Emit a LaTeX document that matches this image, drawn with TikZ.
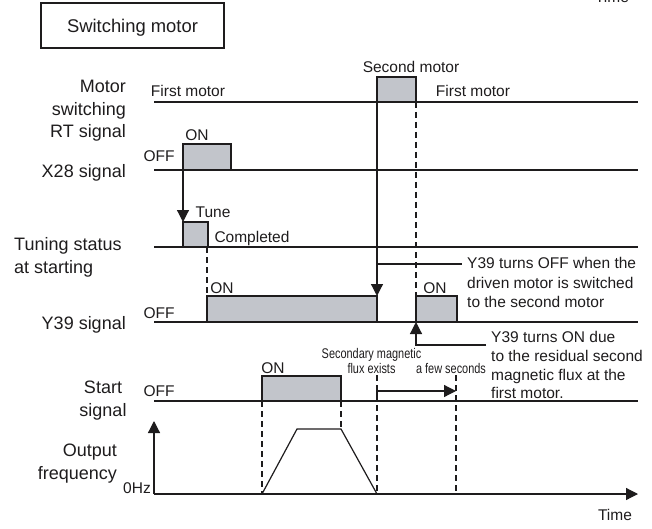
\documentclass[tikz,border=0pt]{standalone}
\usepackage{fontspec}
\setmainfont{Liberation Sans}
\newfontfamily\narrowfont[FakeStretch=0.78]{Liberation Sans}
\usetikzlibrary{arrows.meta}
\definecolor{pulsegray}{RGB}{194,197,203}
\definecolor{ink}{RGB}{30,28,29}
\begin{document}
\begin{tikzpicture}[x=1pt,y=-1pt,
  sig/.style={draw=ink, line width=1.2pt},
  pulse/.style={draw=ink, fill=pulsegray, line width=1.2pt},
  dsh/.style={draw=ink, line width=1.1pt, dash pattern=on 6pt off 4pt},
  tip/.style={-{Triangle[length=12pt,width=12pt]}},
  lbl/.style={font=\fontsize{15.5}{19.5}\selectfont, inner sep=0pt, text=ink},
  side/.style={font=\fontsize{18}{22.75}\selectfont, inner sep=0pt, text=ink},
  small/.style={font=\narrowfont\fontsize{14}{15}\selectfont, inner sep=0pt, text=ink}]
\useasboundingbox (0,0) rectangle (652,529);
\clip (0,0) rectangle (652,529);

% header
\node[draw=ink, line width=1.8pt, minimum width=183pt, minimum height=45pt,
      text height=13.2pt, text depth=0pt, inner sep=0pt,
      font=\fontsize{18.4}{22}\selectfont, text=ink] (hdr) at (132.5,25.5) {Switching motor};
\node[lbl, anchor=base] (timetop) at (612,3) {Time};

% left labels (base = last line)
\node[side, anchor=base east, align=right] (lrt) at (126,138) {Motor\\switching\\RT signal};
\node[side, anchor=base east] (lx28) at (126,177.5) {X28 signal};
\node[side, anchor=base west, align=left] (ltune) at (14,273.25) {Tuning status\\at starting};
\node[side, anchor=base east] (ly39) at (126,329.5) {Y39 signal};
\node[side, anchor=base, align=center] (lstart) at (103,416.25) {Start\\signal};
\node[side, anchor=base east, align=right] (lfreq) at (117,479.25) {Output\\frequency};

% RT signal
\draw[sig] (154,102) -- (638,102);
\filldraw[pulse] (377,102) rectangle (416,77);
\node[lbl, anchor=base] (fm1) at (188,97) {First motor};
\node[lbl, anchor=base] (sm) at (411,72.5) {Second motor};
\node[lbl, anchor=base] (fm2) at (473,97) {First motor};

% X28 signal
\draw[sig] (154,170) -- (638,170);
\filldraw[pulse] (183,170) rectangle (231,144);
\node[lbl, anchor=base] (x28on) at (197,140.5) {ON};
\node[lbl, anchor=base] (x28off) at (159,161.5) {OFF};

% Tuning status
\draw[sig] (154,247) -- (638,247);
\filldraw[pulse] (183,247) rectangle (208,222);
\node[lbl, anchor=base] (tune) at (213,217.5) {Tune};
\node[lbl, anchor=base] (compl) at (252,242.5) {Completed};

% Y39 signal
\draw[sig] (154,322) -- (638,322);
\filldraw[pulse] (207,322) rectangle (377,296);
\filldraw[pulse] (416,322) rectangle (457,296);
\node[lbl, anchor=base] (y39on1) at (222,293.5) {ON};
\node[lbl, anchor=base] (y39on2) at (435,293.5) {ON};
\node[lbl, anchor=base] (y39off) at (159,318.5) {OFF};

% Start signal
\draw[sig] (154,401) -- (638,401);
\filldraw[pulse] (262,401) rectangle (341,376);
\node[lbl, anchor=base] (ston) at (273,373.5) {ON};
\node[lbl, anchor=base] (stoff) at (159,396.5) {OFF};

% Output frequency
\coordinate (orig) at (154,494);
\coordinate (ytop) at (154,421);
\coordinate (xend) at (638,494);
\draw[sig, tip] (orig) -- (ytop);
\draw[sig, tip] (orig) -- (xend);
\draw[sig] (262,494) -- (297,429) -- (341,429) -- (377,494);
\node[lbl, anchor=base east] (zhz) at (151,493.5) {0Hz};
\node[lbl, anchor=base] (timebot) at (615,520.5) {Time};

% dashed guides
\draw[dsh] (207,247) -- (207,296);
\draw[dsh] (416,102) -- (416,296);
\draw[dsh] (262,401) -- (262,494);
\draw[dsh] (341,401) -- (341,429);
\draw[dsh] (377,375) -- (377,494);
\draw[dsh] (456,375) -- (456,494);

% arrows
\coordinate (a1s) at (183,170);
\coordinate (a1e) at (183,222);
\draw[sig, tip] (a1s) -- (a1e);
\coordinate (a2s) at (377,102);
\coordinate (a2e) at (377,296);
\draw[sig, tip] (a2s) -- (a2e);

% annotation 1
\node[lbl, anchor=base west, align=left] (note1) at (467,307.5)
  {Y39 turns OFF when the\\driven motor is switched\\to the second motor};
\coordinate (n1a) at (377,264);
\coordinate (n1b) at (462,264);
\draw[sig] (n1a) -- (n1b);

% annotation 2
\node[lbl, anchor=base west, align=left, font=\fontsize{15.5}{18.8}\selectfont] (note2) at (491,398.9)
  {Y39 turns ON due\\to the residual second\\magnetic flux at the\\first motor.};
\coordinate (n2a) at (486,345);
\coordinate (n2b) at (416,345);
\coordinate (n2c) at (416,322);
\draw[sig, tip] (n2a) -- (n2b) -- (n2c);

% secondary flux
\node[small, anchor=base, align=center] (flux) at (371.5,373) {Secondary magnetic\\flux exists};
\node[small, anchor=base] (few) at (451,373) {a few seconds};
\coordinate (f1) at (377,396);
\coordinate (f2) at (377,391);
\coordinate (f3) at (456,391);
\draw[sig, tip] (f1) -- (f2) -- (f3);
\end{tikzpicture}
\end{document}
